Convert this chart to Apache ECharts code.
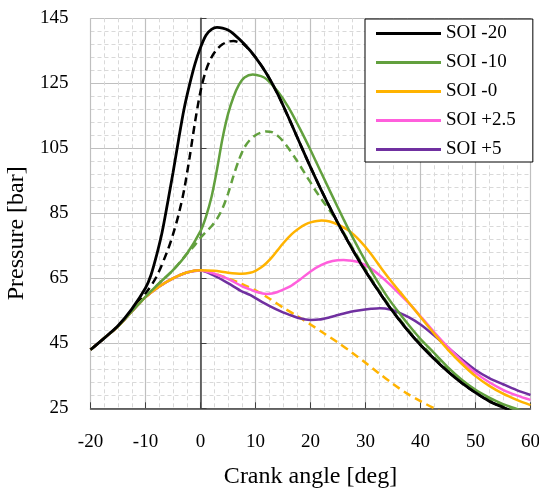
<!DOCTYPE html>
<html>
<head>
<meta charset="utf-8">
<script src="https://cdn.jsdelivr.net/npm/echarts@6/dist/echarts.min.js"></script>
<style>
  html, body { margin: 0; padding: 0; background: #fff; }
  #show { width: 539px; height: 488px; }
</style>
</head>
<body>
<div id="show"></div>
<script>
var myChart = echarts.init(document.getElementById("show"));

// crank angle ticks / pressure ticks
var xTicks = [-20, 60, 10];
var yTicks = [25, 145, 20];

// shared compression part
var compression = [[-20, 43], [-17.5, 46.6], [-15, 50.2], [-12.5, 54.8], [-10, 59.2], [-7.5, 62.5], [-5, 65], [-2.5, 66.8]];

var soiM20 = [[-20, 43], [-17.5, 46.6], [-15, 50.4], [-12.5, 55.5], [-10, 62], [-9, 66], [-8, 72], [-7, 79], [-6, 88], [-5, 97.5],
    [-4, 107.5], [-3, 117], [-2, 124.5], [-1, 131], [0, 136], [1, 139.8], [2, 141.6], [3, 142.2], [4, 142], [5, 141.4], [6, 140.2],
    [8, 137], [10, 133], [12, 128], [14, 121.8], [16, 114.5], [18, 106.8], [20, 99.2], [22, 92], [24, 85.2], [26, 78.8], [28, 72.8],
    [30, 67.2], [32, 62], [34, 57], [36, 52.5], [38, 48.3], [40, 44.5], [42.5, 40.2], [45, 36.3], [47.5, 32.8], [50, 29.8],
    [52.5, 27.2], [55, 25.3], [57.5, 23.5], [60, 22]];
var soiM20Motored = [[-20, 43], [-17.5, 46.6], [-15, 50.3], [-12.5, 55], [-10, 60.3], [-8, 65.5], [-6, 73.5], [-5, 78.5],
    [-4, 84.5], [-3, 92], [-2, 102], [-1, 113], [0, 122.5], [1, 129], [2, 133], [3, 135.5], [4, 137], [5, 137.8], [6, 138],
    [7, 137.6], [8, 136.8], [10, 133], [12, 128], [14, 121.8], [16, 114.5], [18, 106.8], [20, 99.2], [22, 92], [24, 85.2],
    [26, 78.8], [28, 72.8], [30, 67.2], [32, 62], [34, 57], [36, 52.5], [38, 48.3], [40, 44.5], [42.5, 40.2], [45, 36.3],
    [47.5, 32.8], [50, 29.8], [52.5, 27.2], [55, 25.3], [57.5, 23.5], [60, 22]];

var soiM10 = [[-20, 43], [-17.5, 46.6], [-15, 50.2], [-12.5, 54.8], [-10, 59.3], [-7.5, 63.5], [-5, 67.5], [-2.5, 72.5],
    [0, 79.5], [1, 84], [2, 90], [3, 98.5], [4, 108], [5, 115.5], [6, 120.8], [7, 124.6], [8, 126.8], [9.5, 127.7], [11, 127.2],
    [12, 126.3], [14, 122.6], [16, 117.6], [18, 111.3], [20, 104.5], [22, 97.3], [24, 90.2], [26, 83.2], [28, 76.5], [30, 70.3],
    [32, 64.5], [34, 59.2], [36, 54.6], [38, 50.3], [40, 46.3], [42.5, 42], [45, 37.6], [47.5, 33.8], [50, 30.7], [52.5, 28.3],
    [55, 26.3], [57.5, 24.8], [60, 23.2]];
var soiM10Motored = [[-20, 43], [-17.5, 46.6], [-15, 50.2], [-12.5, 54.8], [-10, 59.3], [-7.5, 63.5], [-5, 67.5], [-2.5, 72.5],
    [-1, 75.3], [0, 77.5], [1, 79.3], [2, 81], [3, 83.3], [4, 86.5], [5, 91], [6, 96.5], [7, 101.5], [8, 105.3], [9, 107.6],
    [10, 109], [11, 109.8], [12, 110.2], [13, 110], [14, 108.9], [15, 107.2], [16, 105], [17.5, 101.3], [19, 97.2], [20, 94.5],
    [21, 91.8], [22, 89.3], [24, 84.6], [26, 79.1], [28, 73.3], [30, 67.7], [32, 62.4], [34, 57.4], [36, 52.9], [38, 48.7],
    [40, 45], [42.5, 40.7], [45, 36.8], [47.5, 33.3], [50, 30.3], [52.5, 27.8], [55, 25.8], [57.5, 24], [60, 22.5]];

var soi0 = compression.concat([[0, 67.5], [2.5, 67.3], [5, 66.7], [7.5, 66.4], [9, 66.7], [10, 67.3], [11, 68.3], [12, 69.7],
    [13, 71.5], [14, 73.6], [15, 75.7], [16, 77.6], [17, 79.2], [18, 80.5], [19, 81.5], [20, 82.2], [22, 82.8], [23.5, 82.5],
    [25, 81.5], [27, 79.6], [29, 76.5], [31, 72.5], [33, 67.8], [35, 63.4], [37, 59.3], [39, 55.2], [41, 51], [43, 46.9],
    [45, 43], [47.5, 38.7], [50, 34.9], [52.5, 31.9], [55, 29.5], [57.5, 27.6], [60, 26]]);
var soi0Motored = compression.concat([[0, 67.5], [2.5, 66.5], [5, 65], [7.5, 63.3], [10, 61.3], [12.5, 58.8], [15, 56],
    [17.5, 53.5], [20, 50.8], [22.5, 48], [25, 45.2], [27.5, 42.2], [30, 39], [32.5, 35.7], [35, 32.5], [37.5, 29.6],
    [40, 27.2], [42.5, 25], [45, 23]]);

var soiP25 = compression.concat([[0, 67.4], [2.5, 66.4], [5, 64.8], [7.5, 62.6], [9, 61.6], [10, 60.9], [12, 60.2], [13, 60.3],
    [14, 60.8], [15, 61.5], [16.3, 62.5], [18, 64.5], [20, 67.1], [22, 69.1], [24, 70.3], [26, 70.6], [27, 70.5], [29, 69.8],
    [30.8, 68.2], [32.5, 66], [34.5, 63], [36, 60.5], [38, 57.1], [40, 53.3], [42.5, 48.4], [45, 43.8], [47.5, 39.6], [50, 35.9],
    [52.5, 33], [55, 30.7], [57.5, 29], [60, 27.6]]);

var soiP5 = compression.concat([[0, 67.4], [2.5, 65.8], [5, 63.5], [7.5, 61], [9, 59.9], [10, 58.9], [12.5, 56.5], [15, 54.5],
    [16.3, 53.7], [18, 52.7], [20, 52.2], [21.5, 52.3], [23.5, 53], [25, 53.7], [27.3, 54.7], [29, 55.2], [31, 55.6],
    [32.6, 55.8], [34.5, 55.4], [36.3, 54.3], [38, 52.9], [40, 50.8], [42.5, 47.4], [45, 43.7], [47.5, 40.1], [50, 36.8],
    [52.5, 34.3], [55, 32.4], [57.5, 30.6], [60, 29.1]]);

var serif = 'Liberation Serif';

function line(name, data, color, width, dashed) {
    return {
        type: 'line',
        name: name,
        data: data,
        symbol: 'none',
        smooth: 0.3,
        z: dashed ? 2 : 3,
        lineStyle: { color: color, width: width, type: dashed ? [8, 5] : 'solid' },
        itemStyle: { color: color }
    };
}

myChart.setOption({
    animation: false,
    grid: { left: 90.5, right: 8.5, top: 18.3, bottom: 79.7, outerBoundsMode: 'none' },
    legend: {
        data: ['SOI -20', 'SOI -10', 'SOI -0', 'SOI +2.5', 'SOI +5'],
        orient: 'vertical',
        left: 365,
        top: 19,
        icon: 'rect',
        itemWidth: 65,
        itemHeight: 3,
        itemGap: 10,
        padding: [5, 17, 3, 11],
        backgroundColor: '#fff',
        borderColor: '#000',
        borderWidth: 1,
        borderRadius: 0,
        textStyle: { fontFamily: serif, fontSize: 19, color: '#000', lineHeight: 19 }
    },
    xAxis: {
        type: 'value',
        min: xTicks[0],
        max: xTicks[1],
        interval: xTicks[2],
        name: 'Crank angle [deg]',
        nameLocation: 'middle',
        nameGap: 56,
        nameTextStyle: { fontFamily: serif, fontSize: 24, color: '#000' },
        axisLine: { lineStyle: { color: '#404040', width: 1.5 } },
        axisTick: { inside: true, length: 6, lineStyle: { color: '#404040' } },
        axisLabel: { fontFamily: serif, fontSize: 19, color: '#000', margin: 24 },
        splitLine: { lineStyle: { color: '#bfbfbf', width: 1.2 } },
        minorTick: { show: false, splitNumber: 4 },
        minorSplitLine: { show: true, lineStyle: { color: '#d9d9d9', type: [4, 3] } }
    },
    yAxis: {
        type: 'value',
        min: yTicks[0],
        max: yTicks[1],
        interval: yTicks[2],
        name: 'Pressure [bar]',
        nameLocation: 'middle',
        nameGap: 60,
        nameTextStyle: { fontFamily: serif, fontSize: 24, color: '#000', padding: [0, 40, 0, 0] },
        axisLine: { show: true, lineStyle: { color: '#404040', width: 1.5 } },
        axisTick: { show: true, inside: true, length: 6, lineStyle: { color: '#404040' } },
        axisLabel: { fontFamily: serif, fontSize: 19, color: '#000', margin: 22 },
        splitLine: { lineStyle: { color: '#bfbfbf', width: 1.2 } },
        minorTick: { show: false, splitNumber: 5 },
        minorSplitLine: { show: true, lineStyle: { color: '#d9d9d9', type: [4, 3] } }
    },
    series: [
        line('SOI -20 motored', soiM20Motored, '#000000', 2.5, true),
        line('SOI -10 motored', soiM10Motored, '#62a03e', 2.5, true),
        line('SOI -0 motored', soi0Motored, '#ffb300', 2.5, true),
        line('SOI +5', soiP5, '#7030a0', 2.5, false),
        line('SOI +2.5', soiP25, '#ff5fdc', 2.5, false),
        line('SOI -0', soi0, '#ffb300', 2.5, false),
        line('SOI -10', soiM10, '#62a03e', 2.5, false),
        line('SOI -20', soiM20, '#000000', 2.8, false)
    ]
});
</script>
</body>
</html>
